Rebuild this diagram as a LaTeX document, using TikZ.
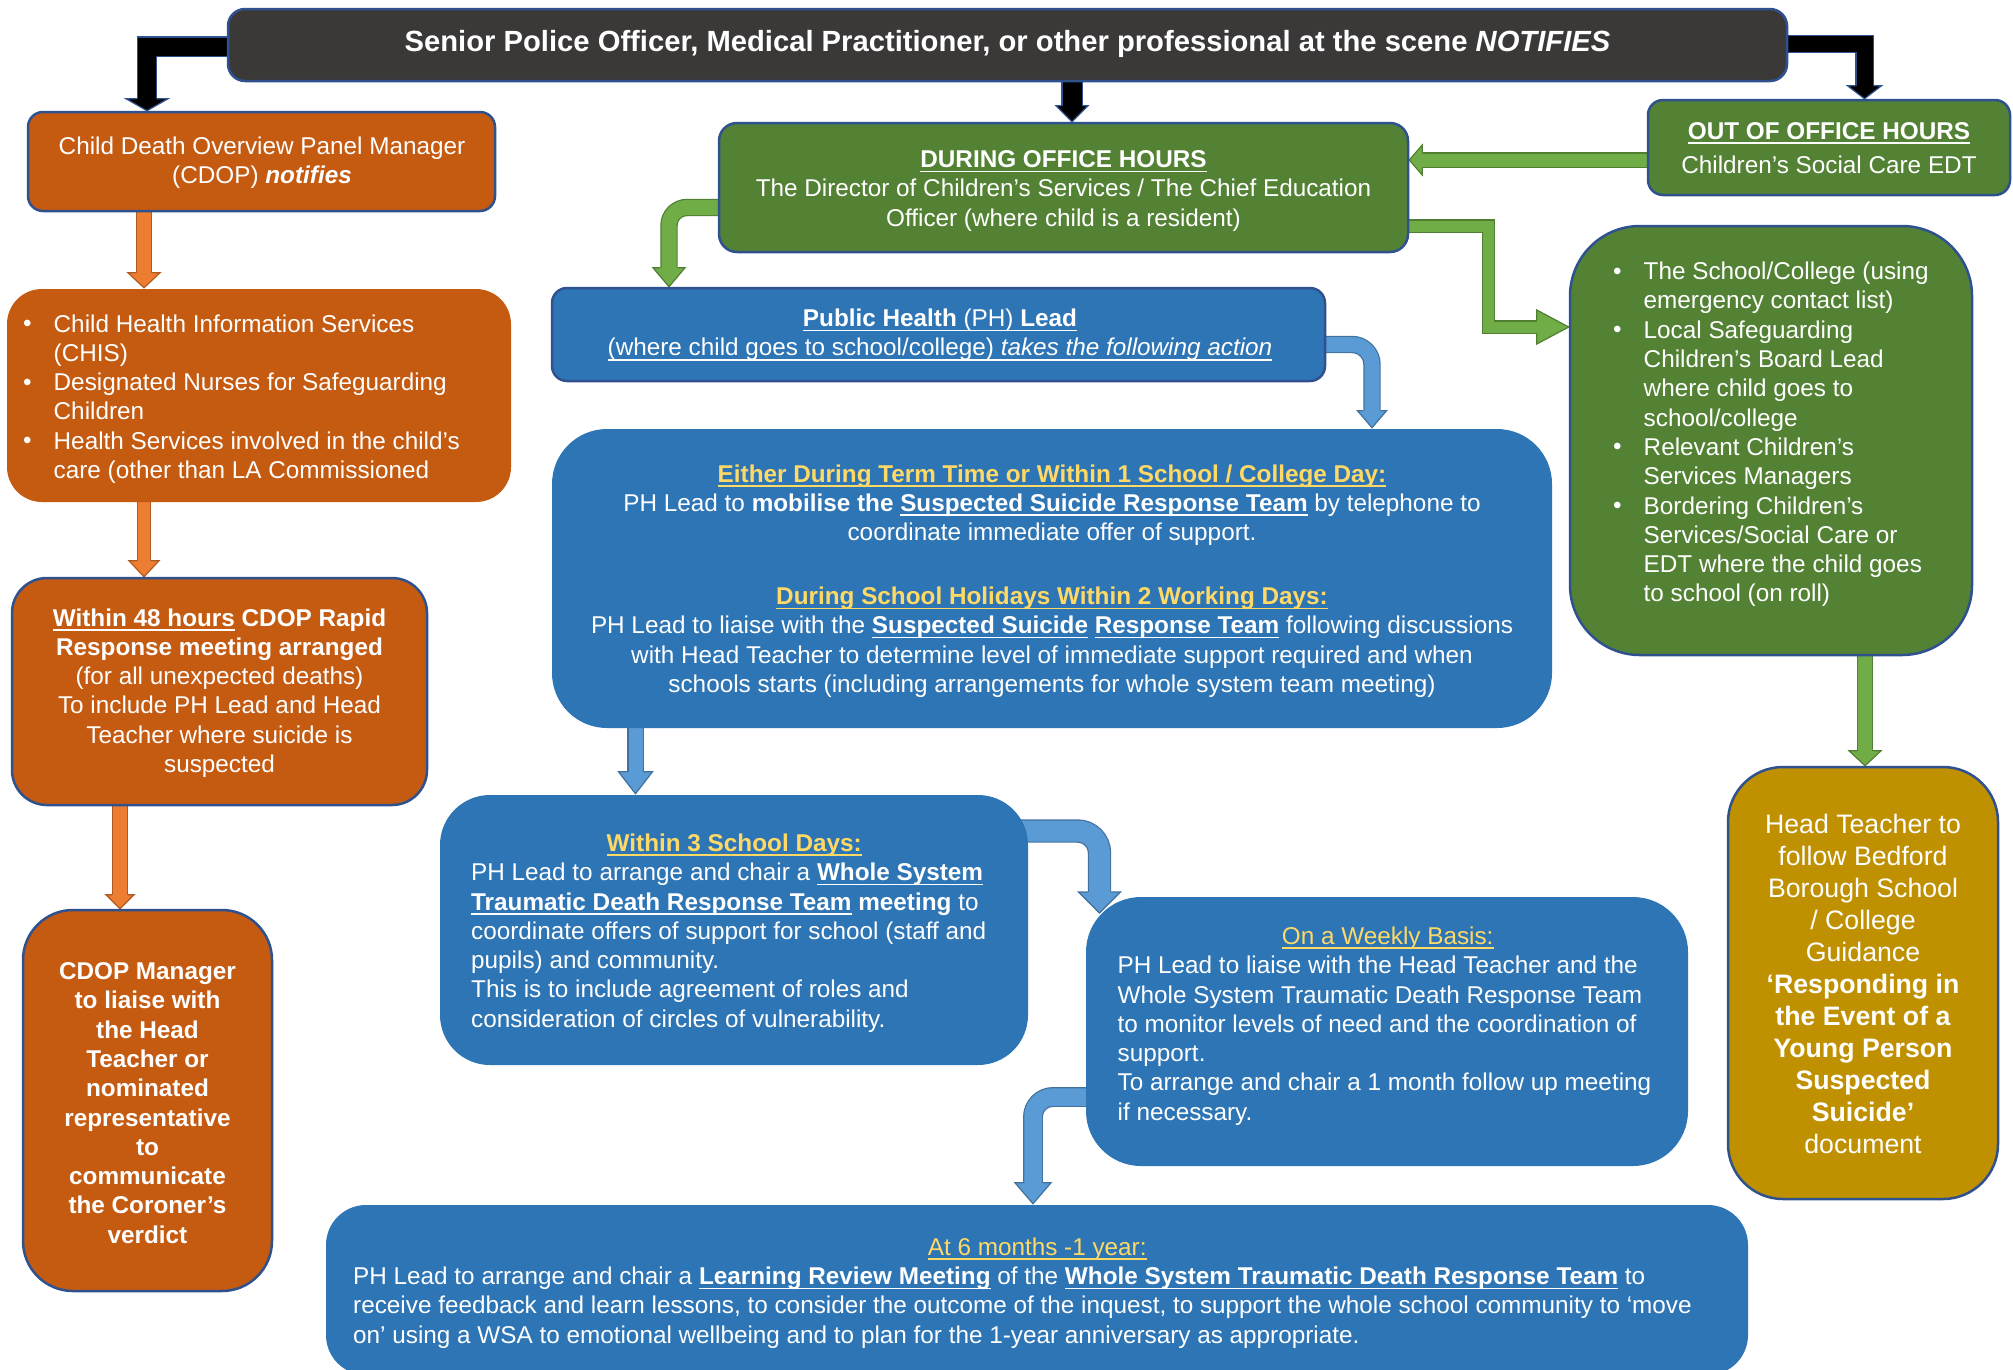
\documentclass[tikz,border=0pt]{standalone}
\usepackage{fontspec}
\setmainfont{Liberation Sans}
\usetikzlibrary{calc}
\definecolor{dk}{HTML}{3B3838}
\definecolor{bd}{HTML}{2F528F}
\definecolor{org}{HTML}{C55A11}
\definecolor{orgA}{HTML}{ED7D31}
\definecolor{orgB}{HTML}{AE5A21}
\definecolor{grn}{HTML}{548235}
\definecolor{grnA}{HTML}{70AD47}
\definecolor{grnB}{HTML}{507E32}
\definecolor{blu}{HTML}{2E75B6}
\definecolor{bluA}{HTML}{5B9BD5}
\definecolor{bluB}{HTML}{41719C}
\definecolor{gld}{HTML}{BF9000}
\definecolor{ylw}{HTML}{FFD966}
\pgfdeclarelayer{back}
\pgfdeclarelayer{bg}
\pgfsetlayers{back,bg,main}
\newcommand\ylw[1]{\textcolor{ylw}{#1}}
\newsavebox\ulbox
\newcommand\uln[1]{\leavevmode\sbox\ulbox{#1}\rlap{\rule[-4.6pt]{\wd\ulbox}{1.6pt}}\usebox\ulbox}
\newcommand\bul{\makebox[30.5pt][l]{\raisebox{0.5pt}{•}}}
\newcommand\ind{\hspace*{30.5pt}}
\tikzset{
  bx/.style={rectangle, inner sep=0pt, line width=2.5pt},
  tx/.style={text=white, inner sep=0pt, font=\fontsize{24.3}{29.3}\selectfont},
  shaft/.style n args={3}{draw=#2, line width=#3+2.4, postaction={draw=#1, line width=#3}},
  pics/ahead/.style n args={5}{code={
    \fill[#1] (0,0) -- (-#3,-#4) -- (#3,-#4) -- cycle;
    \draw[#2, line width=1.2pt, line join=miter] (-#5,-#4) -- (-#3,-#4) -- (0,0) -- (#3,-#4) -- (#5,-#4);
  }},
}
\begin{document}
\begin{tikzpicture}[x=1pt,y=-1pt]
\useasboundingbox (0,0) rectangle (2013,1369);
\begin{pgfonlayer}{back}
\fill[white] (0,0) rectangle (2013,1369);
\end{pgfonlayer}

% boxes
\node[bx, fill=dk, draw=bd, rounded corners=17, minimum width=1559, minimum height=72] (top) at (1007.5,45) {};
\node[bx, fill=org, draw=bd, rounded corners=15, minimum width=467, minimum height=99] (cdop) at (261.5,161.5) {};
\node[bx, fill=org, rounded corners=35, minimum width=504, minimum height=213] (chis) at (259,395.5) {};
\node[bx, fill=org, draw=bd, rounded corners=35, minimum width=415, minimum height=227] (h48) at (219.5,691.5) {};
\node[bx, fill=org, draw=bd, rounded corners=50, minimum width=249, minimum height=381] (liaise) at (147.5,1100.5) {};
\node[bx, fill=grn, draw=bd, rounded corners=18, minimum width=689, minimum height=129] (during) at (1063.5,187.5) {};
\node[bx, fill=grn, draw=bd, rounded corners=15, minimum width=362, minimum height=95] (out) at (1829,147.5) {};
\node[bx, fill=grn, draw=bd, rounded corners=70, minimum width=402, minimum height=429] (bullets) at (1771,440.5) {};
\node[bx, fill=gld, draw=bd, rounded corners=55, minimum width=270, minimum height=432] (gold) at (1863,983) {};
\node[bx, fill=blu, draw=bd, rounded corners=15, minimum width=773, minimum height=93] (ph) at (938.5,334.5) {};
\node[bx, fill=blu, rounded corners=55, minimum width=1000, minimum height=299] (either) at (1052,578.5) {};
\node[bx, fill=blu, rounded corners=50, minimum width=588, minimum height=270] (within3) at (734,930) {};
\node[bx, fill=blu, rounded corners=55, minimum width=602, minimum height=269] (weekly) at (1387,1031.5) {};
\node[bx, fill=blu, rounded corners=40, minimum width=1422, minimum height=170] (six) at (1037,1290) {};

% texts
\node[tx, font=\fontsize{29.2}{35}\selectfont\bfseries] (tTop) at (1007.5,44) {Senior Police Officer, Medical Practitioner, or other professional at the scene \textit{NOTIFIES}};
\node[tx, align=center] (tCdop) at (262,163) {Child Death Overview Panel Manager\\(CDOP) \textbf{\textit{notifies}}};
\node[tx, align=left, anchor=west] (tChis) at (23,399) {\bul Child Health Information Services\\ \ind (CHIS)\\ \bul Designated Nurses for Safeguarding\\ \ind Children\\ \bul Health Services involved in the child’s\\ \ind care (other than LA Commissioned};
\node[tx, align=center] (t48) at (219.5,693) {\textbf{\uln{Within 48 hours} CDOP Rapid}\\ \textbf{Response meeting arranged}\\ (for all unexpected deaths)\\ To include PH Lead and Head\\ Teacher where suicide is\\ suspected};
\node[tx, align=center, font=\fontsize{24.3}{29.3}\selectfont\bfseries] (tLiaise) at (147.5,1103) {CDOP Manager\\ to liaise with\\ the Head\\ Teacher or\\ nominated\\ representative\\ to\\ communicate\\ the Coroner’s\\ verdict};
\node[tx, align=center] (tDuring) at (1063.5,191) {\textbf{\uln{DURING OFFICE HOURS}}\\ The Director of Children’s Services / The Chief Education\\ Officer (where child is a resident)};
\node[tx, align=center] (tOut) at (1829,148) {\textbf{\uln{OUT OF OFFICE HOURS}}\\[5pt] Children’s Social Care EDT};
\node[tx, align=left, anchor=west] (tBul) at (1613,434.5) {\bul The School/College (using\\ \ind emergency contact list)\\ \bul Local Safeguarding\\ \ind Children’s Board Lead\\ \ind where child goes to\\ \ind school/college\\ \bul Relevant Children’s\\ \ind Services Managers\\ \bul Bordering Children’s\\ \ind Services/Social Care or\\ \ind EDT where the child goes\\ \ind to school (on roll)};
\node[tx, align=center, font=\fontsize{26.7}{32}\selectfont] (tGold) at (1863,983.5) {Head Teacher to\\ follow Bedford\\ Borough School\\ / College\\ Guidance\\ \textbf{‘Responding in}\\ \textbf{the Event of a}\\ \textbf{Young Person}\\ \textbf{Suspected}\\ \textbf{Suicide’}\\ document};
\node[tx, align=center] (tPh) at (940,335) {\uln{\textbf{Public Health} (PH) \textbf{Lead}}\\ \uln{(where child goes to school/college) \textit{takes the following action}}};
\node[tx, align=center] (tEither) at (1052,581) {\ylw{\textbf{\uln{Either During Term Time or Within 1 School / College Day:}}}\\
PH Lead to \textbf{mobilise the \uln{Suspected Suicide Response Team}} by telephone to\\
coordinate immediate offer of support.\\[34.5pt]
\ylw{\textbf{\uln{During School Holidays Within 2 Working Days:}}}\\
PH Lead to liaise with the \textbf{\uln{Suspected Suicide} \uln{Response Team}} following discussions\\
with Head Teacher to determine level of immediate support required and when\\
schools starts (including arrangements for whole system team meeting)};
\node[tx, align=left, anchor=west] (tW3) at (471,933) {\makebox[526pt][c]{\ylw{\textbf{\uln{Within 3 School Days:}}}}\\
PH Lead to arrange and chair a \textbf{\uln{Whole System}}\\
\textbf{\uln{Traumatic Death Response Team} meeting} to\\
coordinate offers of support for school (staff and\\
pupils) and community.\\
This is to include agreement of roles and\\
consideration of circles of vulnerability.};
\node[tx, align=left, anchor=west] (tWk) at (1117.5,1026) {\makebox[540pt][c]{\ylw{\uln{On a Weekly Basis:}}}\\
PH Lead to liaise with the Head Teacher and the\\
Whole System Traumatic Death Response Team\\
to monitor levels of need and the coordination of\\
support.\\
To arrange and chair a 1 month follow up meeting\\
if necessary.};
\node[tx, align=left, anchor=west] (tSix) at (353,1293) {\makebox[1368pt][c]{\ylw{\uln{At 6 months -1 year:}}}\\
PH Lead to arrange and chair a \textbf{\uln{Learning Review Meeting}} of the \textbf{\uln{Whole System Traumatic Death Response Team}} to\\
receive feedback and learn lessons, to consider the outcome of the inquest, to support the whole school community to ‘move\\
on’ using a WSA to emotional wellbeing and to plan for the 1-year anniversary as appropriate.};

% arrows
\coordinate (kA1) at (147,46.5);
\coordinate (kA2) at (1864.5,44);
\coordinate (kA3) at (1072,0);
\coordinate (kA4) at (144,0);
\coordinate (kA6) at (120,0);
\coordinate (kA7) at (0,160);
\coordinate (kA8) at (669,207.5);
\coordinate (kA9) at (1488.5,226);
\coordinate (kA9b) at (0,327);
\coordinate (kA10) at (1865,0);
\coordinate (kA11) at (1372,344.5);
\coordinate (kA12) at (635.5,0);
\coordinate (kA13) at (1099.5,831);
\coordinate (tA13) at (1099.5,913);
\coordinate (kA14) at (1033,1097);
\begin{pgfonlayer}{bg}
% black
\draw[shaft={black}{bd}{18}] ($(top.west |- kA1)+(10,0)$) -| ($(cdop.north -| kA1)+(0,-12)$);
\pic at (cdop.north -| kA1) {ahead={black}{bd}{21}{12}{10.2}};
\draw[shaft={black}{bd}{16}] ($(top.east |- kA2)+(-10,0)$) -| ($(out.north -| kA2)+(0,-13)$);
\pic at (out.north -| kA2) {ahead={black}{bd}{17}{13}{9.2}};
\draw[shaft={black}{bd}{19}] ($(top.south -| kA3)+(0,-10)$) -- ($(during.north -| kA3)+(0,-16)$);
\pic at (during.north -| kA3) {ahead={black}{bd}{16}{16}{10.7}};
% orange
\draw[shaft={orgA}{orgB}{14}] ($(cdop.south -| kA4)+(0,-10)$) -- ($(chis.north -| kA4)+(0,-15)$);
\pic at (chis.north -| kA4) {ahead={orgA}{orgB}{16}{15}{8.2}};
\draw[shaft={orgA}{orgB}{12}] ($(chis.south -| kA4)+(0,-10)$) -- ($(h48.north -| kA4)+(0,-16)$);
\pic at (h48.north -| kA4) {ahead={orgA}{orgB}{15}{16}{7.2}};
\draw[shaft={orgA}{orgB}{14}] ($(h48.south -| kA6)+(0,-10)$) -- ($(liaise.north -| kA6)+(0,-14)$);
\pic at (liaise.north -| kA6) {ahead={orgA}{orgB}{14}{14}{8.2}};
% green
\draw[shaft={grnA}{grnB}{13}] ($(out.west |- kA7)+(10,0)$) -- ($(during.east |- kA7)+(13,0)$);
\pic[rotate=-90] at (during.east |- kA7) {ahead={grnA}{grnB}{15}{13}{7.7}};
\draw[shaft={grnA}{grnB}{15}, rounded corners=18] ($(during.west |- kA8)+(10,0)$) -| ($(ph.north -| kA8)+(0,-19)$);
\pic at (ph.north -| kA8) {ahead={grnA}{grnB}{16}{19}{8.7}};
\draw[shaft={grnA}{grnB}{11}] ($(during.east |- kA9)+(-10,0)$) -| (kA9 |- kA9b) -- ($(bullets.west |- kA9b)+(-32,0)$);
\pic[rotate=90] at (bullets.west |- kA9b) {ahead={grnA}{grnB}{17}{32}{6.7}};
\draw[shaft={grnA}{grnB}{14}] ($(bullets.south -| kA10)+(0,-10)$) -- ($(gold.north -| kA10)+(0,-15)$);
\pic at (gold.north -| kA10) {ahead={grnA}{grnB}{16}{15}{8.2}};
% blue
\draw[shaft={bluA}{bluB}{15}, rounded corners=20] ($(ph.east |- kA11)+(-10,0)$) -| ($(either.north -| kA11)+(0,-17)$);
\pic at (either.north -| kA11) {ahead={bluA}{bluB}{14.5}{17}{8.7}};
\draw[shaft={bluA}{bluB}{14}] ($(either.south -| kA12)+(0,-10)$) -- ($(within3.north -| kA12)+(0,-22)$);
\pic at (within3.north -| kA12) {ahead={bluA}{bluB}{17}{22}{8.2}};
\draw[shaft={bluA}{bluB}{21}, rounded corners=22] ($(within3.east |- kA13)+(-10,0)$) -| ($(tA13)+(0,-21)$);
\pic at (tA13) {ahead={bluA}{bluB}{21}{21}{11.7}};
\draw[shaft={bluA}{bluB}{17.5}, rounded corners=20] ($(weekly.west |- kA14)+(10,0)$) -| ($(six.north -| kA14)+(0,-21)$);
\pic at (six.north -| kA14) {ahead={bluA}{bluB}{18}{21}{10}};
\end{pgfonlayer}
\end{tikzpicture}
\end{document}
